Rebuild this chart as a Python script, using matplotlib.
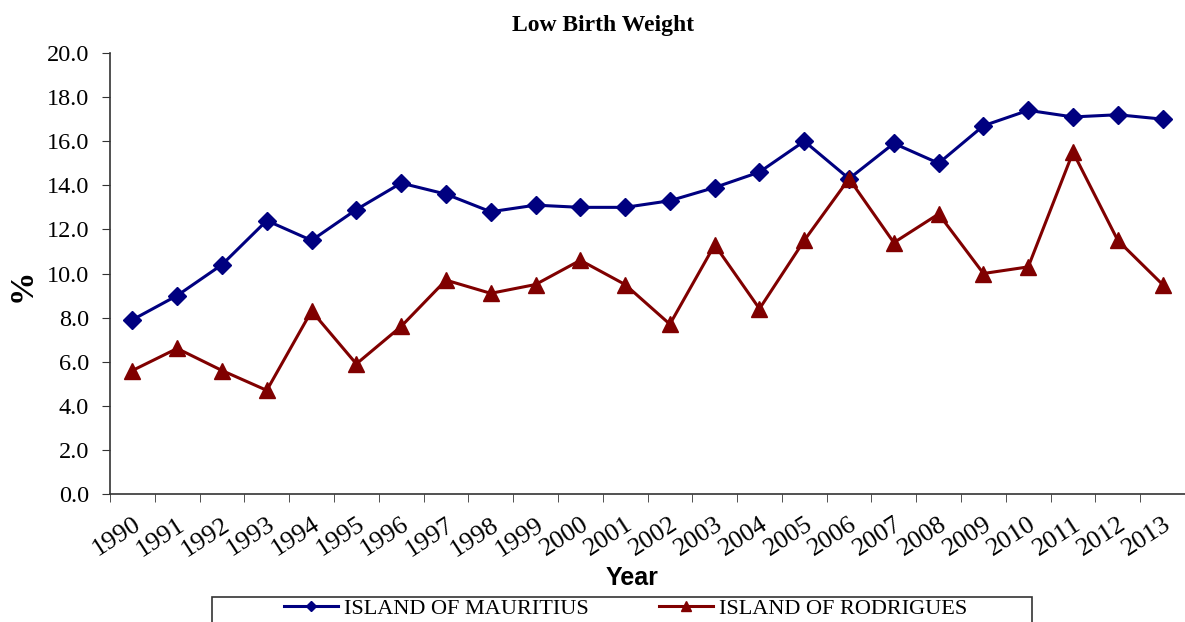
import matplotlib
matplotlib.use("Agg")
import matplotlib.pyplot as plt
import numpy as np
from matplotlib.patches import Rectangle

years = [str(y) for y in range(1990, 2014)]
mauritius = [7.9, 9.0, 10.4, 12.4, 11.5, 12.9, 14.1, 13.6, 12.8, 13.1, 13.0, 13.0,
             13.3, 13.9, 14.6, 16.0, 14.3, 15.9, 15.0, 16.7, 17.4, 17.1, 17.2, 17.0]
rodrigues = [5.6, 6.6, 5.6, 4.7, 8.3, 5.9, 7.6, 9.7, 9.1, 9.5, 10.6, 9.5,
             7.7, 11.3, 8.4, 11.5, 14.3, 11.4, 12.7, 10.0, 10.3, 15.5, 11.5, 9.5]
yticks = np.arange(0, 20.1, 2.0)

serif = "Liberation Serif"
plt.rcParams['font.family'] = [serif, 'DejaVu Serif']

W, H = 1185, 622
fig = plt.figure(figsize=(W / 100, H / 100), dpi=100)
ax = fig.add_axes([110 / W, 1 - 494 / H, 1 - 110 / W, (494 - 53) / H])

x = np.arange(len(years))
ax.plot(x, mauritius, color="#000080", lw=2.2, marker="D", markersize=9,
        label="ISLAND OF MAURITIUS")
ax.plot(x, rodrigues, color="#800000", lw=2.2, marker="^", markersize=12,
        label="ISLAND OF RODRIGUES")

ax.set_xlim(-0.5, -0.5 + (W - 110) / 45.17)
ax.set_ylim(0, 20)
ax.set_yticks(yticks)
ax.set_yticklabels([f"{v:.1f}" for v in yticks], fontsize=17.5)
ax.tick_params(axis="y", direction="out", length=6, pad=9, color="#333333")

ax.set_xticks(x)
ax.set_xticklabels(years, fontsize=19, rotation=33, ha="right", va="top",
                   rotation_mode="anchor")
ax.set_xticks(np.arange(-0.5, len(years), 1.0), minor=True)
ax.tick_params(axis="x", which="major", length=0, pad=14)
ax.tick_params(axis="x", which="minor", direction="out", length=6, color="#333333")

for s in ["top", "right"]:
    ax.spines[s].set_visible(False)
for s in ["left", "bottom"]:
    ax.spines[s].set_color("#333333")
    ax.spines[s].set_linewidth(1.2)

fig.text(603 / W, 1 - 26 / H, "Low Birth Weight", ha="center", va="center",
         fontsize=17, fontweight="bold")
fig.text(22 / W, 1 - 285 / H, "%", ha="center", va="center", rotation=90,
         fontsize=24, fontweight="bold")
fig.text(632 / W, 1 - 578 / H, "Year", ha="center", va="center",
         fontsize=18, fontweight="bold", family="Liberation Sans")

leg = fig.legend(loc="center", bbox_to_anchor=(0.528, 1 - 609 / H), ncol=2,
                 frameon=False, fontsize=16, handlelength=2.43, handletextpad=0.25,
                 columnspacing=3.2, markerscale=0.6)
fig.add_artist(Rectangle((212 / W, -0.05), (1032 - 212) / W, 0.05 + 1 - 597 / H,
                         transform=fig.transFigure, fill=False, edgecolor="#333333",
                         lw=1.2))

fig.savefig("out.png", dpi=100)
